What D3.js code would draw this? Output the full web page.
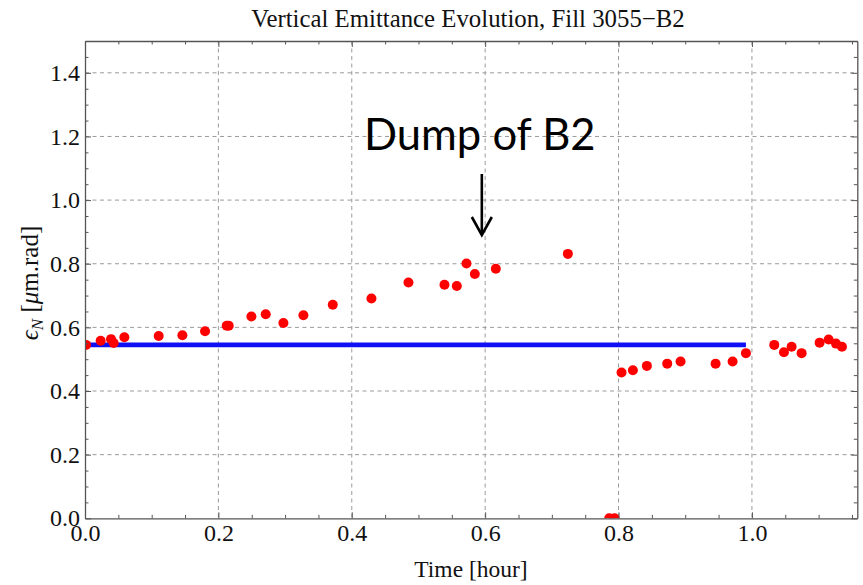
<!DOCTYPE html>
<html>
<head>
<meta charset="utf-8">
<script src="https://cdn.jsdelivr.net/npm/d3@7"></script>
<style>
  html, body { margin: 0; padding: 0; background: #fff; }
  svg { display: block; }
</style>
</head>
<body>
<svg id="chart" width="863" height="585"></svg>
<script>
// ---- data ----
const timeHours = [0.0015, 0.0235, 0.039, 0.043, 0.059, 0.1105, 0.146, 0.18, 0.2125, 0.2155,
  0.2495, 0.271, 0.2975, 0.3275, 0.3715, 0.4295, 0.485, 0.539, 0.5575, 0.572,
  0.5845, 0.616, 0.724, 0.786, 0.794, 0.8045, 0.8215, 0.8425, 0.873, 0.893,
  0.9455, 0.971, 0.991, 1.0335, 1.048, 1.0595, 1.0745, 1.1015, 1.115, 1.126, 1.135];
const emittance = [0.545, 0.558, 0.563, 0.551, 0.569, 0.573, 0.575, 0.588, 0.605, 0.605,
  0.634, 0.641, 0.614, 0.638, 0.671, 0.691, 0.741, 0.734, 0.730, 0.801,
  0.768, 0.784, 0.831, 0.0, 0.0, 0.458, 0.465, 0.479, 0.486, 0.4925,
  0.486, 0.4925, 0.519, 0.545, 0.522, 0.539, 0.519, 0.552, 0.562, 0.549, 0.539];
const refLineTime = [0.0, 0.991];
const refLineValue = [0.545, 0.545];
const xMajorTicks = [0.0, 0.2, 0.4, 0.6, 0.8, 1.0];
const yMajorTicks = [0.0, 0.2, 0.4, 0.6, 0.8, 1.0, 1.2, 1.4];
const xDomain = [0, 1.158];
const yDomain = [0, 1.5];
const titleText = "Vertical Emittance Evolution, Fill 3055\u2212B2";
const xLabelText = "Time [hour]";
const annotationText = "Dump of B2";
const annotationTime = 0.595;

// ---- layout ----
const SERIF = "'Liberation Serif', 'DejaVu Serif', serif";
const pLeft = 85, pRight = 857.3, pTop = 41, pBottom = 518.3;
const svg = d3.select("#chart");
const x = d3.scaleLinear().domain(xDomain).range([pLeft, pRight]);
const y = d3.scaleLinear().domain(yDomain).range([pBottom, pTop]);

const xMinor = d3.range(0, 1.1501, 0.05).filter(v => !xMajorTicks.some(m => Math.abs(m - v) < 1e-6));
const yMinor = d3.range(0, 1.5001, 0.05).filter(v => !yMajorTicks.some(m => Math.abs(m - v) < 1e-6));

// grid
const grid = svg.append("g").attr("stroke", "#9a9a9a").attr("stroke-width", 1).attr("stroke-dasharray", "4,3.5");
grid.selectAll("line.gx").data(xMajorTicks.filter(v => v > 0)).enter().append("line")
  .attr("x1", d => x(d)).attr("x2", d => x(d)).attr("y1", pTop).attr("y2", pBottom);
grid.selectAll("line.gy").data(yMajorTicks.filter(v => v > 0)).enter().append("line")
  .attr("y1", d => y(d)).attr("y2", d => y(d)).attr("x1", pLeft).attr("x2", pRight);

// clip
svg.append("clipPath").attr("id", "plotclip").append("rect")
  .attr("x", pLeft).attr("y", pTop).attr("width", pRight - pLeft).attr("height", pBottom - pTop);

const plot = svg.append("g").attr("clip-path", "url(#plotclip)");

// blue reference line
plot.append("path")
  .datum(refLineTime.map((t, i) => [t, refLineValue[i]]))
  .attr("d", d3.line().x(d => x(d[0])).y(d => y(d[1])))
  .attr("fill", "none").attr("stroke", "#1010f5").attr("stroke-width", 4.6);

// points
plot.selectAll("circle").data(timeHours.map((t, i) => [t, emittance[i]])).enter().append("circle")
  .attr("cx", d => x(d[0])).attr("cy", d => y(d[1])).attr("r", 5).attr("fill", "#ff0000");

// axes (frame + ticks)
function styleAxis(g) {
  g.attr("font-family", SERIF);
  g.select(".domain").attr("stroke", "#555").attr("stroke-width", 1.3);
  g.selectAll(".tick line").attr("stroke", "#555").attr("stroke-width", 1);
  g.selectAll(".tick text").style("font-family", SERIF).attr("font-size", 24).attr("fill", "#111");
}
const fmt = d3.format(".1f");
const axB = svg.append("g").attr("transform", `translate(0,${pBottom})`)
  .call(d3.axisBottom(x).tickValues(xMajorTicks).tickSize(-6).tickSizeOuter(0).tickPadding(6).tickFormat(fmt));
axB.call(styleAxis);
svg.append("g").attr("transform", `translate(0,${pBottom})`)
  .call(d3.axisBottom(x).tickValues(xMinor).tickSize(-3.5).tickSizeOuter(0).tickFormat(""))
  .call(g => g.select(".domain").remove()).selectAll(".tick line").attr("stroke", "#555");

const axT = svg.append("g").attr("transform", `translate(0,${pTop})`)
  .call(d3.axisTop(x).tickValues(xMajorTicks).tickSize(-6).tickSizeOuter(0).tickFormat(""));
axT.call(styleAxis);
svg.append("g").attr("transform", `translate(0,${pTop})`)
  .call(d3.axisTop(x).tickValues(xMinor).tickSize(-3.5).tickSizeOuter(0).tickFormat(""))
  .call(g => g.select(".domain").remove()).selectAll(".tick line").attr("stroke", "#555");

const axL = svg.append("g").attr("transform", `translate(${pLeft},0)`)
  .call(d3.axisLeft(y).tickValues(yMajorTicks).tickSize(-6).tickSizeOuter(0).tickPadding(5).tickFormat(fmt));
axL.call(styleAxis);
svg.append("g").attr("transform", `translate(${pLeft},0)`)
  .call(d3.axisLeft(y).tickValues(yMinor).tickSize(-3.5).tickSizeOuter(0).tickFormat(""))
  .call(g => g.select(".domain").remove()).selectAll(".tick line").attr("stroke", "#555");

const axR = svg.append("g").attr("transform", `translate(${pRight},0)`)
  .call(d3.axisRight(y).tickValues(yMajorTicks).tickSize(-6).tickSizeOuter(0).tickFormat(""));
axR.call(styleAxis);
svg.append("g").attr("transform", `translate(${pRight},0)`)
  .call(d3.axisRight(y).tickValues(yMinor).tickSize(-3.5).tickSizeOuter(0).tickFormat(""))
  .call(g => g.select(".domain").remove()).selectAll(".tick line").attr("stroke", "#555");

// title
svg.append("text").style("font-family", SERIF).attr("fill", "#111").attr("x", 468).attr("y", 27)
  .attr("text-anchor", "middle").attr("font-size", 24.8).text(titleText);

// x label
svg.append("text").style("font-family", SERIF).attr("fill", "#111").attr("x", 471).attr("y", 577)
  .attr("text-anchor", "middle").attr("font-size", 23.5).text(xLabelText);

// y label
const yl = svg.append("text").style("font-family", SERIF).attr("fill", "#111").attr("font-size", 25)
  .attr("text-anchor", "middle").attr("transform", "translate(38,283) rotate(-90)");
yl.append("tspan").attr("font-style", "italic").text("\u03f5");
yl.append("tspan").attr("font-size", 17).attr("font-style", "italic").attr("dy", 5).text("N");
yl.append("tspan").attr("dy", -5).text(" [");
yl.append("tspan").attr("font-style", "italic").text("\u03bc");
yl.append("tspan").text("m.rad]");

// annotation
const ax = x(annotationTime);
svg.append("text").attr("x", ax - 2).attr("y", 150).attr("text-anchor", "middle")
  .style("font-family", "Lato, 'Open Sans', sans-serif").attr("font-size", 43.5).attr("fill", "#000")
  .text(annotationText);
const arrow = svg.append("g").attr("stroke", "#000").attr("stroke-width", 2.6).attr("fill", "none");
arrow.append("line").attr("x1", ax).attr("x2", ax).attr("y1", 174).attr("y2", 234);
arrow.append("path").attr("d", `M${ax - 10},217 L${ax},235 L${ax + 10},217`);
</script>
</body>
</html>
